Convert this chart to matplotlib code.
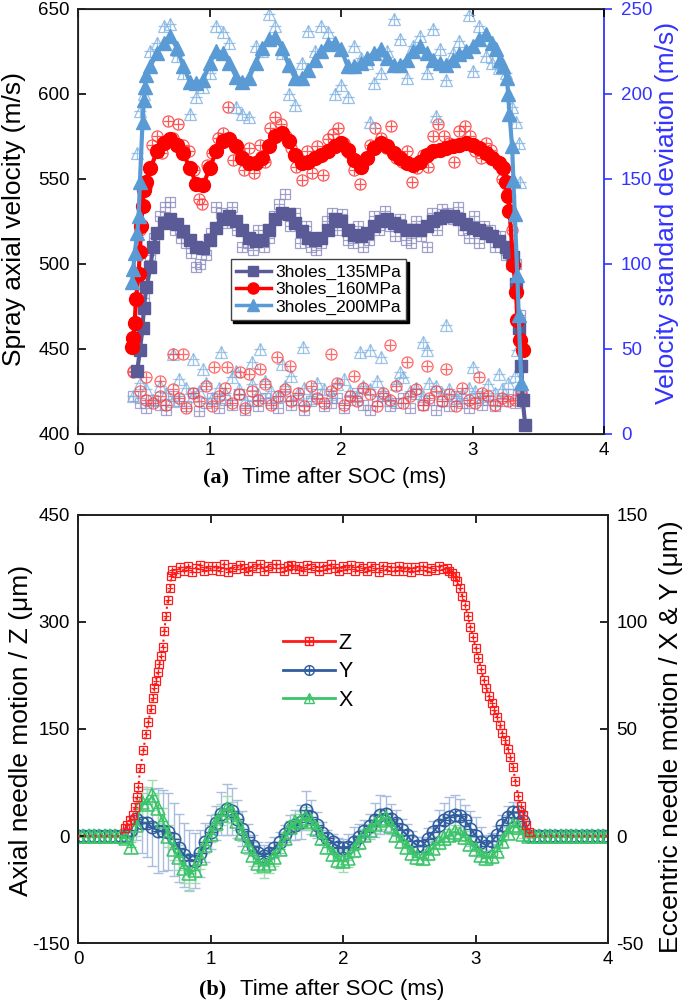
import numpy as np
import matplotlib
matplotlib.use('Agg')
import matplotlib.pyplot as plt

plt.rcParams['font.family'] = ['Liberation Sans', 'DejaVu Sans']
plt.rcParams['axes.unicode_minus'] = False

# ---------------- (a) spray axial velocity ----------------
t_mid = [0.60, 0.65, 0.70, 0.75, 0.80, 0.85, 0.90, 0.95, 1.00, 1.05,
         1.10, 1.15, 1.20, 1.25, 1.30, 1.35, 1.40, 1.45, 1.50, 1.55,
         1.60, 1.65, 1.70, 1.75, 1.80, 1.85, 1.90, 1.95, 2.00, 2.05,
         2.10, 2.15, 2.20, 2.25, 2.30, 2.35, 2.40, 2.45, 2.50, 2.55,
         2.60, 2.65, 2.70, 2.75, 2.80, 2.85, 2.90, 2.95, 3.00, 3.05,
         3.10, 3.15, 3.20, 3.25]

t135 = [0.45, 0.47, 0.49, 0.50, 0.52, 0.55, 0.57] + t_mid + [3.28, 3.31, 3.33, 3.35, 3.37, 3.38, 3.40]
v135 = [437, 449, 462, 474, 486, 498, 510,
        518, 524, 526, 523, 519, 514, 510, 509, 514, 521,
        526, 528, 525, 520, 515, 513, 514, 520, 526, 530,
        529, 524, 519, 515, 514, 515, 520, 526, 525, 520,
        517, 516, 518, 522, 525, 526, 524, 522, 520, 520,
        520, 522, 525, 527, 528, 528, 526, 523, 521, 520,
        518, 516, 513, 510,
        507, 504, 488, 462, 440, 420, 405]

t160 = [0.41, 0.42, 0.43, 0.44, 0.46, 0.47, 0.48, 0.49, 0.50, 0.52, 0.55] + t_mid[:53] + \
       [3.23, 3.25, 3.27, 3.28, 3.31, 3.33, 3.34, 3.36, 3.38]
v160 = [451, 456, 465, 479, 494, 507, 522, 534, 543, 548, 556,
        566, 571, 573, 570, 565, 556, 547, 546, 556, 566,
        572, 573, 569, 562, 559, 559, 562, 569, 575, 577,
        572, 564, 559, 560, 562, 564, 566, 569, 571, 567,
        561, 557, 562, 568, 571, 569, 565, 562, 559, 558,
        560, 564, 566, 567, 568, 569, 570, 571, 570, 568,
        565, 562, 559,
        556, 548, 540, 531, 499, 483, 467, 455, 449]

t200 = [0.41, 0.42, 0.43, 0.45, 0.46, 0.47, 0.49, 0.50, 0.51, 0.52, 0.55] + t_mid[:52] + \
       [3.18, 3.21, 3.23, 3.26, 3.27, 3.28, 3.30, 3.31, 3.32, 3.34, 3.35, 3.37]
v200 = [489, 497, 506, 518, 528, 548, 583, 596, 604, 611, 616,
        624, 630, 634, 627, 616, 607, 606, 608, 618, 625,
        624, 618, 610, 607, 609, 618, 627, 632, 633, 627,
        617, 609, 609, 614, 620, 625, 629, 630, 626, 616,
        616, 618, 621, 624, 626, 621, 617, 617, 620, 625,
        628, 624, 620, 618, 617, 620, 623, 625, 628, 632,
        635, 630,
        626, 620, 616, 609, 600, 588, 569, 549, 529, 493, 470, 430]

# raw (individual) velocities
traw135 = [0.50, 0.55, 0.58, 0.62, 0.66, 0.70, 0.74, 0.78, 0.82, 0.86,
           0.90, 0.93, 0.97, 1.01, 1.05, 1.09, 1.13, 1.17, 1.21, 1.25,
           1.29, 1.33, 1.37, 1.41, 1.45, 1.49, 1.53, 1.57, 1.61, 1.65,
           1.69, 1.73, 1.77, 1.81, 1.85, 1.89, 1.93, 1.97, 2.01, 2.05,
           2.09, 2.13, 2.17, 2.21, 2.25, 2.29, 2.33, 2.37, 2.41, 2.45,
           2.49, 2.53, 2.57, 2.61, 2.65, 2.69, 2.73, 2.77, 2.81, 2.85,
           2.89, 2.93, 2.97, 3.01, 3.05, 3.09, 3.13, 3.17, 3.21, 3.25,
           3.29, 3.33, 3.36]
vraw135 = [480, 505, 515, 528, 533, 536, 520, 515, 512, 506,
           498, 500, 505, 518, 533, 530, 524, 533, 520, 510,
           512, 508, 520, 510, 515, 528, 535, 541, 522, 530,
           512, 522, 510, 508, 512, 525, 530, 520, 529, 514,
           512, 522, 510, 514, 528, 520, 531, 522, 516, 526,
           514, 512, 525, 516, 510, 530, 520, 532, 530, 526,
           533, 520, 515, 528, 512, 522, 520, 510, 516, 505,
           500, 500, 470]

traw160 = [0.47, 0.52, 0.56, 0.60, 0.64, 0.68, 0.72, 0.76, 0.80, 0.84,
           0.88, 0.92, 0.94, 0.98, 1.02, 1.06, 1.10, 1.14, 1.18, 1.22,
           1.26, 1.30, 1.34, 1.38, 1.42, 1.46, 1.50, 1.54, 1.58, 1.62,
           1.66, 1.70, 1.74, 1.78, 1.82, 1.86, 1.90, 1.94, 1.98, 2.02,
           2.06, 2.10, 2.14, 2.18, 2.22, 2.26, 2.30, 2.34, 2.38, 2.42,
           2.46, 2.50, 2.54, 2.58, 2.62, 2.66, 2.70, 2.74, 2.78, 2.82,
           2.86, 2.90, 2.94, 2.98, 3.02, 3.06, 3.10, 3.14, 3.18, 3.22,
           3.26, 3.30]
vraw160 = [520, 545, 570, 575, 565, 584, 574, 582, 570, 566,
           555, 538, 535, 558, 565, 574, 577, 592, 561, 567,
           555, 568, 553, 570, 560, 580, 586, 582, 575, 568,
           557, 549, 566, 553, 569, 552, 573, 576, 580, 571,
           565, 555, 547, 561, 570, 580, 574, 568, 581, 562,
           560, 566, 548, 556, 564, 557, 575, 582, 575, 571,
           560, 578, 581, 575, 566, 562, 571, 567, 561, 550,
           541, 520]

traw200 = [0.45, 0.47, 0.50, 0.55, 0.60, 0.65, 0.70, 0.75, 0.80, 0.85,
           0.90, 0.95, 1.00, 1.05, 1.10, 1.15, 1.20, 1.25, 1.30, 1.35,
           1.40, 1.45, 1.50, 1.55, 1.60, 1.65, 1.70, 1.75, 1.80, 1.85,
           1.90, 1.95, 2.00, 2.05, 2.10, 2.15, 2.20, 2.22, 2.25, 2.30,
           2.35, 2.40, 2.45, 2.50, 2.55, 2.60, 2.65, 2.70, 2.72, 2.75,
           2.80, 2.85, 2.90, 2.97, 3.00, 3.05, 3.10, 3.15, 3.20, 3.25,
           3.30, 3.33, 3.35, 3.36]
vraw200 = [565, 590, 600, 625, 630, 640, 641, 622, 612, 588,
           598, 604, 612, 640, 636, 630, 592, 588, 586, 628,
           625, 647, 640, 624, 600, 593, 618, 637, 625, 640,
           636, 600, 605, 598, 628, 621, 618, 583, 606, 612,
           625, 644, 632, 609, 628, 634, 612, 638, 587, 626,
           608, 624, 631, 646, 613, 640, 622, 618, 615, 612,
           592, 583, 571, 548]

# velocity standard deviation (right axis)
t_std = [0.42, 0.47, 0.52, 0.57, 0.62, 0.67, 0.72, 0.77, 0.82, 0.87,
         0.92, 0.97, 1.02, 1.07, 1.12, 1.17, 1.22, 1.27, 1.32, 1.37,
         1.42, 1.47, 1.52, 1.57, 1.62, 1.67, 1.72, 1.77, 1.82, 1.87,
         1.92, 1.97, 2.02, 2.07, 2.12, 2.17, 2.22, 2.27, 2.32, 2.37,
         2.42, 2.47, 2.52, 2.57, 2.62, 2.67, 2.72, 2.77, 2.82, 2.87,
         2.92, 2.97, 3.02, 3.07, 3.12, 3.17, 3.22, 3.27, 3.32, 3.37]
std135 = [22, 18, 15, 20, 17, 14, 22, 19, 16, 24,
          13, 18, 21, 15, 20, 17, 23, 14, 19, 16,
          21, 18, 15, 22, 17, 20, 14, 19, 23, 16,
          18, 21, 15, 20, 24, 17, 14, 19, 22, 16,
          18, 21, 15, 23, 17, 20, 14, 19, 16, 22,
          18, 15, 21, 17, 20, 16, 19, 23, 18, 25]
std160 = [36, 25, 20, 18, 22, 17, 26, 21, 15, 24,
          19, 28, 16, 22, 27, 18, 23, 15, 25, 20,
          29, 17, 22, 26, 19, 24, 16, 28, 21, 18,
          25, 30, 17, 22, 19, 27, 23, 16, 24, 20,
          28, 18, 22, 26, 17, 21, 25, 19, 23, 16,
          27, 20, 18, 24, 22, 17, 21, 19, 20, 24]
std200 = [22, 30, 26, 20, 28, 24, 19, 32, 27, 22,
          25, 30, 21, 27, 24, 33, 26, 20, 29, 23,
          31, 25, 22, 28, 34, 24, 27, 21, 30, 26,
          23, 29, 32, 25, 22, 28, 26, 31, 24, 20,
          29, 33, 25, 27, 22, 30, 28, 24, 26, 21,
          23, 27, 25, 22, 29, 24, 26, 30, 34, 28]
t_out160 = [0.42, 0.52, 0.72, 0.80, 1.03, 1.13, 1.23, 1.38, 1.51, 1.61,
            1.92, 2.37, 2.50, 2.80, 0.62, 1.30, 2.10, 2.65, 3.05]
s_out160 = [37, 33, 47, 47, 39, 39, 36, 38, 45, 40,
            47, 52, 42, 38, 31, 35, 34, 40, 33]
t_out200 = [0.72, 0.87, 1.09, 1.32, 1.38, 1.71, 2.14, 2.22, 2.30, 2.62,
            2.65, 2.80, 3.34, 0.95, 1.20, 1.55, 2.45, 3.00, 3.20]
s_out200 = [47, 44, 48, 42, 50, 51, 48, 49, 45, 54,
            49, 64, 49, 38, 37, 41, 36, 39, 35]

labels_a = ['3holes_135MPa', '3holes_160MPa', '3holes_200MPa']

# ---------------- (b) needle motion ----------------
tz = [0.00, 0.04, 0.08, 0.12, 0.16, 0.20, 0.24, 0.28, 0.32,
      0.355, 0.372, 0.392, 0.412, 0.430, 0.443, 0.455, 0.468,
      0.493, 0.511, 0.531, 0.548, 0.564, 0.573, 0.586, 0.601, 0.613, 0.626,
      0.639, 0.651, 0.662, 0.677, 0.694, 0.703, 0.712,
      0.74, 0.77, 0.80, 0.83, 0.86, 0.89, 0.92, 0.95, 0.98, 1.01,
      1.04, 1.07, 1.10, 1.13, 1.16, 1.19, 1.22, 1.25, 1.28, 1.31,
      1.34, 1.37, 1.40, 1.43, 1.46, 1.49, 1.52, 1.55, 1.58, 1.61,
      1.64, 1.67, 1.70, 1.73, 1.76, 1.79, 1.82, 1.85, 1.88, 1.91,
      1.94, 1.97, 2.00, 2.03, 2.06, 2.09, 2.12, 2.15, 2.18, 2.21,
      2.24, 2.27, 2.30, 2.33, 2.36, 2.39, 2.42, 2.45, 2.48, 2.51,
      2.54, 2.57, 2.60, 2.63, 2.66, 2.69, 2.72, 2.75,
      2.78, 2.80, 2.82, 2.84, 2.86, 2.88, 2.90, 2.92, 2.94,
      2.96, 2.98, 3.00, 3.02, 3.04, 3.06, 3.08, 3.10, 3.12, 3.14,
      3.16, 3.18, 3.20, 3.22, 3.24, 3.26, 3.28, 3.30, 3.32, 3.34,
      3.36, 3.38, 3.40,
      3.44, 3.48, 3.52, 3.56, 3.60, 3.64, 3.68, 3.72, 3.76, 3.80,
      3.84, 3.88, 3.92, 3.96, 4.00]
z_val = [0, 0, 0, 0, 0, 0, 0, 0, 0,
         11, 15, 22, 29, 41, 55, 69, 95,
         120, 143, 160, 178, 194, 207, 217, 230, 241, 252,
         265, 287, 308, 331, 348, 365, 373,
         368, 377, 371, 379, 370, 376, 380, 371, 378, 373,
         379, 372, 381, 370, 377, 374, 380, 375, 371, 379,
         376, 381, 372, 378, 375, 381, 376, 372, 379, 380,
         374, 378, 371, 380, 375, 378, 371, 379, 374, 381,
         375, 371, 379, 374, 380, 372, 378, 375, 371, 379,
         376, 370, 379, 373, 377, 371, 379, 372, 377, 370,
         377, 373, 379, 371, 376, 373, 378, 374,
         375, 372, 369, 364, 357, 347, 336, 324, 309,
         293, 279, 264, 250, 234, 219, 208, 196, 186, 176,
         167, 156, 145, 134, 122, 111, 97, 77, 56, 42,
         30, 16, 6,
         0, 0, 0, 0, 0, 0, 0, 0, 0, 0,
         0, 0, 0, 0, 0]

txy = [0.00, 0.04, 0.08, 0.12, 0.16, 0.20, 0.24, 0.28, 0.32, 0.36,
       0.40, 0.44, 0.48, 0.52, 0.56, 0.60, 0.64, 0.68, 0.72, 0.76,
       0.80, 0.84, 0.88, 0.92, 0.96, 1.00, 1.04, 1.08, 1.12, 1.16,
       1.20, 1.24, 1.28, 1.32, 1.36, 1.40, 1.44, 1.48, 1.52, 1.56,
       1.60, 1.64, 1.68, 1.72, 1.76, 1.80, 1.84, 1.88, 1.92, 1.96,
       2.00, 2.04, 2.08, 2.12, 2.16, 2.20, 2.24, 2.28, 2.32, 2.36,
       2.40, 2.44, 2.48, 2.52, 2.56, 2.60, 2.64, 2.68, 2.72, 2.76,
       2.80, 2.84, 2.88, 2.92, 2.96, 3.00, 3.04, 3.08, 3.12, 3.16,
       3.20, 3.24, 3.28, 3.32, 3.36, 3.40, 3.44, 3.48, 3.52, 3.56,
       3.60, 3.64, 3.68, 3.72, 3.76, 3.80, 3.84, 3.88, 3.92, 3.96,
       4.00]
y_val = [0, 0, 0, 0, 0, 0, 0, 0, 0, 0,
         3, 8, 6, 6, 4, 2.5, 2.5, 2, -1.5, -5.5,
         -9, -11, -11.5, -8, -3, 2, 6, 10.5, 12.5, 11.5,
         8, 3.5, -0.5, -4.5, -8, -9.2, -8, -5.5, -3, 1,
         4, 5, 6.5, 12, 9, 5, 1.5, -1, -3, -5,
         -5.5, -5, -3, -0.3, 2.5, 4.5, 7.5, 10, 10.5, 8,
         6, 3, 0.5, -2.5, -4.5, -4.5, -1.2, 2, 5, 7.5,
         9, 10, 9.5, 7.5, 3.5, 0, -2.7, -4.5, -2.5, 0.5,
         5, 9, 11, 11, 7, 0, 0, 0, 0, 0,
         0, 0, 0, 0, 0, 0, 0, 0, 0, 0,
         0]
y_err = [0, 0, 0, 0, 0, 0, 0, 0, 0, 2,
         6, 10, 14, 16, 18, 20, 19, 18, 17, 16,
         15, 14, 13, 11, 9, 8, 8, 10, 12, 11,
         9, 8, 6, 5, 5, 5, 5, 5, 5, 4,
         6, 7, 8, 9, 8, 6, 5, 4, 4, 4,
         4, 6, 7, 6, 5, 6, 8, 9, 8, 7,
         6, 5, 5, 5, 4, 4, 5, 5, 7, 8,
         9, 9, 8, 7, 8, 9, 7, 5, 4, 4,
         5, 5, 5, 5, 4, 1, 0, 0, 0, 0,
         0, 0, 0, 0, 0, 0, 0, 0, 0, 0,
         0]
x_val = [0, 0, 0, 0, 0, 0, 0, 0, 0, -1,
         -5, 5, 16, 15, 19, 13, 7, 0, -6, -10,
         -15, -17.5, -16, -10.5, -4, 1, 6.3, 10, 12.5, 11,
         7, 1.5, -4.5, -9, -12.5, -13.5, -12.4, -10, -6, -1,
         4, 6.5, 7.5, 8.5, 7, 3.5, -1, -5, -8.5, -11,
         -11.7, -10.5, -6.5, -2.7, 0.5, 2.7, 5.5, 7.5, 8.5, 4.5,
         0.5, -2.5, -5, -8, -10, -10.5, -8, -5.5, -3, -1,
         0.5, 2, 1, -0.5, -3.5, -6, -9, -10.5, -9.5, -7,
         -2.5, 1.5, 5, 4, 1, 0, 0, 0, 0, 0,
         0, 0, 0, 0, 0, 0, 0, 0, 0, 0,
         0]
x_err = [0, 0, 0, 0, 0, 0, 0, 0, 0, 1,
         3, 5, 7, 8, 7, 7, 6, 5, 5, 6,
         7, 8, 6, 5, 4, 4, 4, 5, 6, 5,
         4, 4, 4, 5, 5, 6, 5, 4, 3, 3,
         3, 4, 4, 5, 4, 3, 3, 3, 3, 4,
         5, 4, 3, 3, 3, 3, 4, 4, 4, 3,
         3, 3, 3, 3, 3, 3, 3, 3, 3, 3,
         3, 3, 3, 3, 3, 3, 3, 3, 3, 3,
         3, 3, 3, 3, 2, 1, 0, 0, 0, 0,
         0, 0, 0, 0, 0, 0, 0, 0, 0, 0,
         0]

c135, c160, c200 = '#5a5a96', '#ff0000', '#5b9bd5'
r135, r160, r200 = '#8a8ac0', '#ff3a3a', '#7fb2e2'
cz, cy, cx = '#ff1a1a', '#2f5d9e', '#3cc46a'
blue_ax = '#3333ff'

fig = plt.figure(figsize=(6.85, 10.06), dpi=100)

ax1 = fig.add_axes([0.114, 0.569, 0.768, 0.4225])
ax1r = ax1.twinx()
ax1.set_zorder(ax1r.get_zorder() + 1)
ax1.patch.set_visible(False)


def hollow_plus(ax, x, y, color, marker, ms, alpha=1.0, zorder=2):
    ax.plot(x, y, ls='none', marker=marker, ms=ms, mfc='none', mec=color,
            mew=0.9, alpha=alpha, zorder=zorder)
    ax.plot(x, y, ls='none', marker='+', ms=ms * 0.95, mec=color,
            mew=0.9, alpha=alpha, zorder=zorder)


# raw velocity points
hollow_plus(ax1, traw135, vraw135, r135, 's', 7.5, 0.8)
hollow_plus(ax1, traw160, vraw160, r160, 'o', 8, 0.85)
hollow_plus(ax1, traw200, vraw200, r200, '^', 8.5, 0.8)

# std points (right axis)
hollow_plus(ax1r, t_std, std135, r135, 's', 7.5, 0.75)
hollow_plus(ax1r, t_std, std200, r200, '^', 8.5, 0.75)
hollow_plus(ax1r, t_out200, s_out200, r200, '^', 8.5, 0.75)
hollow_plus(ax1r, t_std, std160, r160, 'o', 8, 0.75)
hollow_plus(ax1r, t_out160, s_out160, r160, 'o', 8, 0.75)

h135, = ax1.plot(t135, v135, '-', color=c135, lw=3, marker='s', ms=9, zorder=5)
h160, = ax1.plot(t160, v160, '-', color=c160, lw=3, marker='o', ms=10, zorder=5)
h200, = ax1.plot(t200, v200, '-', color=c200, lw=3, marker='^', ms=10.5, zorder=5)

ax1.set_xlim(0, 4)
ax1.set_ylim(400, 650)
ax1.set_xticks([0, 1, 2, 3, 4])
ax1.set_yticks([400, 450, 500, 550, 600, 650])
ax1.tick_params(axis='both', direction='in', length=6, width=1.2, labelsize=13.5,
                top=True, right=False, pad=6)
ax1.spines['right'].set_visible(False)
for s in ['left', 'bottom', 'top']:
    ax1.spines[s].set_linewidth(1.3)
    ax1.spines[s].set_color('#222222')

ax1r.set_ylim(0, 250)
ax1r.set_yticks([0, 50, 100, 150, 200, 250])
ax1r.tick_params(axis='y', direction='out', length=6, width=1.2, colors=blue_ax,
                 labelsize=13.5, pad=6)
ax1r.spines['right'].set_color(blue_ax)
ax1r.spines['right'].set_linewidth(1.3)

# legend with smaller handle markers
l135, = ax1.plot([], [], '-', color=c135, lw=2.5, marker='s', ms=7)
l160, = ax1.plot([], [], '-', color=c160, lw=2.5, marker='o', ms=8)
l200, = ax1.plot([], [], '-', color=c200, lw=2.5, marker='^', ms=8)
leg = ax1.legend([l135, l160, l200], labels_a, loc='upper left',
                 bbox_to_anchor=(0.29, 0.41), fontsize=12.5, frameon=True,
                 fancybox=False, shadow={'color': 'black', 'alpha': 1.0},
                 edgecolor='#444444', handlelength=2.0, labelspacing=0.12,
                 borderpad=0.3, handletextpad=0.25, borderaxespad=0)
leg.get_frame().set_linewidth(1.0)

fig.text(14 / 685, 1 - 219 / 1006, 'Spray axial velocity (m/s)', rotation=90,
         ha='center', va='center', fontsize=19)
fig.text(667 / 685, 1 - 213 / 1006, 'Velocity standard deviation (m/s)', rotation=90,
         ha='center', va='center', fontsize=19, color=blue_ax)
fig.text(0.296, 1 - 478 / 1006, '(a)', ha='left', va='center', fontsize=16,
         family='Liberation Serif', weight='bold')
fig.text(0.354, 1 - 478 / 1006, 'Time after SOC (ms)', ha='left', va='center', fontsize=16)

# ---------------- bottom panel ----------------
ax2 = fig.add_axes([0.114, 0.0626, 0.774, 0.4255])
ax2r = ax2.twinx()
ax2.set_zorder(ax2r.get_zorder() + 1)
ax2.patch.set_visible(False)

ax2r.errorbar(txy, y_val, yerr=y_err, fmt='none', ecolor='#a9bedf', elinewidth=1,
              capsize=3.5, capthick=1, zorder=1)
ax2r.errorbar(txy, x_val, yerr=x_err, fmt='none', ecolor='#9fdcb0', elinewidth=1,
              capsize=3.5, capthick=1, zorder=1)
hy, = ax2r.plot(txy, y_val, '-', color=cy, lw=1.5, marker='o', ms=9, mfc='none',
                mec=cy, mew=1.1, zorder=3)
hy2, = ax2r.plot(txy, y_val, ls='none', marker='+', ms=9, mec=cy, mew=1.0, zorder=3)
hx, = ax2r.plot(txy, x_val, '-', color=cx, lw=1.5, marker='^', ms=9.5, mfc='none',
                mec=cx, mew=1.1, zorder=4)
hx2, = ax2r.plot(txy, x_val, ls='none', marker='+', ms=7.5, mec=cx, mew=1.0, zorder=4)

# Z: dotted line everywhere, markers only where the needle moves
z_mark = [i for i, v in enumerate(z_val) if v != 0]
hz, = ax2.plot(tz, z_val, ':', color=cz, lw=1.5, marker='s', ms=5.5, mfc='none',
               mec=cz, mew=0.9, zorder=5, markevery=z_mark)
hz2, = ax2.plot(tz, z_val, ls='none', marker='+', ms=5, mec=cz, mew=0.9, zorder=5,
                markevery=z_mark)

ax2.set_xlim(0, 4)
ax2.set_ylim(-150, 450)
ax2.set_xticks([0, 1, 2, 3, 4])
ax2.set_yticks([-150, 0, 150, 300, 450])
ax2.tick_params(axis='both', direction='in', length=6, width=1.2, labelsize=13.5,
                top=True, right=False, pad=6)
ax2r.set_ylim(-50, 150)
ax2r.set_yticks([-50, 0, 50, 100, 150])
ax2r.tick_params(axis='y', direction='in', length=6, width=1.2, labelsize=13.5, pad=6)
for a in (ax2, ax2r):
    for s in a.spines.values():
        s.set_linewidth(1.3)
        s.set_color('#222222')

lz, = ax2.plot([], [], '-', color=cz, lw=2, marker='s', ms=6, mfc='none', mec=cz)
lz2, = ax2.plot([], [], ls='none', marker='+', ms=5.5, mec=cz)
ly, = ax2.plot([], [], '-', color=cy, lw=2, marker='o', ms=7, mfc='none', mec=cy)
ly2, = ax2.plot([], [], ls='none', marker='+', ms=7, mec=cy)
lx, = ax2.plot([], [], '-', color=cx, lw=2, marker='^', ms=7.5, mfc='none', mec=cx)
lx2, = ax2.plot([], [], ls='none', marker='+', ms=6, mec=cx)
ax2.legend([(lz, lz2), (ly, ly2), (lx, lx2)], ['Z', 'Y', 'X'], loc='upper left',
           bbox_to_anchor=(0.37, 0.745), fontsize=15.5, frameon=False,
           handlelength=2.4, labelspacing=0.35, handletextpad=0.2, borderaxespad=0)

fig.text(21 / 685, 1 - 730 / 1006, 'Axial needle motion / Z (\u03bcm)', rotation=90,
         ha='center', va='center', fontsize=19)
fig.text(671 / 685, 1 - 737 / 1006, 'Eccentric needle motion / X & Y (\u03bcm)', rotation=90,
         ha='center', va='center', fontsize=19)
fig.text(0.291, 1 - 989 / 1006, '(b)', ha='left', va='center', fontsize=16,
         family='Liberation Serif', weight='bold')
fig.text(0.350, 1 - 989 / 1006, 'Time after SOC (ms)', ha='left', va='center', fontsize=16)

fig.savefig('out.png', dpi=100)
